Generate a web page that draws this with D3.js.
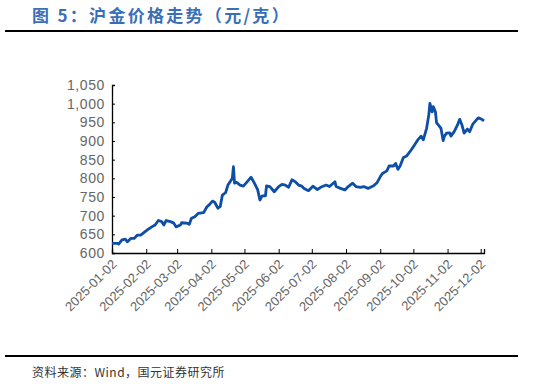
<!DOCTYPE html>
<html>
<head>
<meta charset="utf-8">
<script src="https://cdn.jsdelivr.net/npm/d3@7"></script>
<style>
  body { margin: 0; background: #fff; }
  svg { display: block; }
</style>
</head>
<body>
<svg id="chart" width="533" height="386"></svg>
<script>
// 沪金价格 (元/克)
var dates = [
  "2025-01-02", "2025-01-07", "2025-01-08", "2025-01-11", "2025-01-14", "2025-01-16",
  "2025-01-19", "2025-01-22", "2025-01-25", "2025-01-28", "2025-02-03", "2025-02-07",
  "2025-02-10", "2025-02-13", "2025-02-16", "2025-02-18", "2025-02-20", "2025-02-24",
  "2025-02-27", "2025-03-01", "2025-03-05", "2025-03-06", "2025-03-11", "2025-03-13",
  "2025-03-15", "2025-03-18", "2025-03-21", "2025-03-26", "2025-03-29", "2025-03-31",
  "2025-04-03", "2025-04-05", "2025-04-08", "2025-04-10", "2025-04-12", "2025-04-15",
  "2025-04-17", "2025-04-19", "2025-04-21", "2025-04-22", "2025-04-23", "2025-04-25",
  "2025-04-28", "2025-05-01", "2025-05-04", "2025-05-08", "2025-05-11", "2025-05-14",
  "2025-05-16", "2025-05-18", "2025-05-21", "2025-05-22", "2025-05-25", "2025-05-29",
  "2025-06-02", "2025-06-05", "2025-06-08", "2025-06-11", "2025-06-14", "2025-06-17",
  "2025-06-20", "2025-06-23", "2025-06-25", "2025-06-29", "2025-07-03", "2025-07-07",
  "2025-07-10", "2025-07-15", "2025-07-18", "2025-07-23", "2025-07-24", "2025-07-28",
  "2025-08-01", "2025-08-04", "2025-08-08", "2025-08-11", "2025-08-15", "2025-08-18",
  "2025-08-22", "2025-08-27", "2025-08-30", "2025-09-02", "2025-09-04", "2025-09-08",
  "2025-09-10", "2025-09-14", "2025-09-16", "2025-09-18", "2025-09-20", "2025-09-23",
  "2025-09-26", "2025-09-30", "2025-10-03", "2025-10-06", "2025-10-09", "2025-10-11",
  "2025-10-14", "2025-10-16", "2025-10-17", "2025-10-19", "2025-10-20", "2025-10-22",
  "2025-10-23", "2025-10-26", "2025-10-27", "2025-10-29", "2025-10-30", "2025-11-01",
  "2025-11-04", "2025-11-05", "2025-11-08", "2025-11-11", "2025-11-13", "2025-11-15",
  "2025-11-17", "2025-11-20", "2025-11-22", "2025-11-25", "2025-11-28", "2025-11-30",
  "2025-12-03", "2025-12-05"
];
var prices = [
  626, 626, 624, 635, 637, 630,
  639, 639, 648, 648, 662, 670,
  675, 687, 684, 675, 687, 684,
  680, 670, 675, 681, 680, 677,
  693, 697, 706, 708, 724, 729,
  739, 736, 720, 724, 755, 762,
  782, 791, 800, 831, 787, 789,
  782, 779, 789, 803, 787, 769,
  742, 753, 753, 780, 778, 764,
  778, 784, 782, 776, 796, 791,
  782, 779, 773, 767, 779, 770,
  776, 782, 778, 791, 778, 773,
  769, 778, 787, 778, 776, 778,
  773, 780, 788, 804, 813, 820,
  833, 833, 840, 824, 833, 856,
  860, 876, 889, 903, 913, 903,
  934, 970, 1001, 978, 992, 978,
  949, 938, 934, 901, 912, 921,
  922, 913, 925, 943, 958, 943,
  921, 932, 925, 946, 956, 962,
  958, 954
];
var xTicks = ["2025-01-02", "2025-02-02", "2025-03-02", "2025-04-02", "2025-05-02", "2025-06-02",
  "2025-07-02", "2025-08-02", "2025-09-02", "2025-10-02", "2025-11-02", "2025-12-02"];
var yTicks = [600, 650, 700, 750, 800, 850, 900, 950, 1000, 1050];

var title = "图 5：沪金价格走势（元/克）";
var source = "资料来源：Wind，国元证券研究所";

var parse = d3.timeParse("%Y-%m-%d");
var fmt = d3.timeFormat("%Y-%m-%d");
var data = dates.map(function (d, i) { return { date: parse(d), value: prices[i] }; });

var svg = d3.select("#chart");
var plotLeft = 112, plotRight = 484, plotTop = 85, plotBottom = 253;

var x = d3.scaleTime()
    .domain([parse("2025-01-02"), parse("2025-12-05")])
    .range([plotLeft, plotRight]);
var y = d3.scaleLinear()
    .domain([600, 1050])
    .range([plotBottom, plotTop]);

// title and rules
svg.append("text")
    .attr("x", 32).attr("y", 22)
    .attr("font-family", "'Noto Sans CJK SC', sans-serif")
    .attr("font-size", 17)
    .attr("font-weight", "bold")
    .attr("letter-spacing", 2.3)
    .attr("fill", "#3a6fb8")
    .text(title);

svg.append("line")
    .attr("x1", 5).attr("x2", 518).attr("y1", 31).attr("y2", 31)
    .attr("stroke", "#000").attr("stroke-width", 2);
svg.append("line")
    .attr("x1", 5).attr("x2", 518).attr("y1", 356).attr("y2", 356)
    .attr("stroke", "#000").attr("stroke-width", 2);

svg.append("text")
    .attr("x", 32).attr("y", 377)
    .attr("font-family", "'Noto Sans CJK SC', sans-serif")
    .attr("font-size", 12)
    .attr("letter-spacing", 0.5)
    .attr("fill", "#333")
    .text(source);

// axes
var yAxis = svg.append("g")
    .attr("transform", "translate(" + plotLeft + ",0)")
    .call(d3.axisLeft(y).tickValues(yTicks).tickSize(-3).tickPadding(7)
        .tickFormat(d3.format(",")));
yAxis.select(".domain").attr("stroke", "#000").attr("stroke-width", 1.3);
yAxis.selectAll(".tick line").attr("stroke", "#000");
yAxis.selectAll("text")
    .attr("font-family", "'Liberation Sans', Arial, sans-serif")
    .attr("font-size", 14)
    .attr("letter-spacing", 0.6)
    .attr("fill", "#666");

var xAxis = svg.append("g")
    .attr("transform", "translate(0," + plotBottom + ")")
    .call(d3.axisBottom(x).tickValues(xTicks.map(parse)).tickSize(-4).tickFormat(fmt));
xAxis.select(".domain").attr("stroke", "#000").attr("stroke-width", 1.3);
xAxis.selectAll(".tick line").attr("stroke", "#000");
xAxis.selectAll("text")
    .attr("font-family", "'Liberation Sans', Arial, sans-serif")
    .attr("font-size", 13)
    .attr("fill", "#666")
    .attr("text-anchor", "end")
    .attr("dy", 0)
    .attr("y", 0)
    .attr("transform", "translate(5,12) rotate(-45)");

// price line
var line = d3.line()
    .x(function (d) { return x(d.date); })
    .y(function (d) { return y(d.value); });

svg.append("path")
    .datum(data)
    .attr("d", line)
    .attr("fill", "none")
    .attr("stroke", "#0d4ea6")
    .attr("stroke-width", 2.8)
    .attr("stroke-linejoin", "round");
</script>
</body>
</html>
